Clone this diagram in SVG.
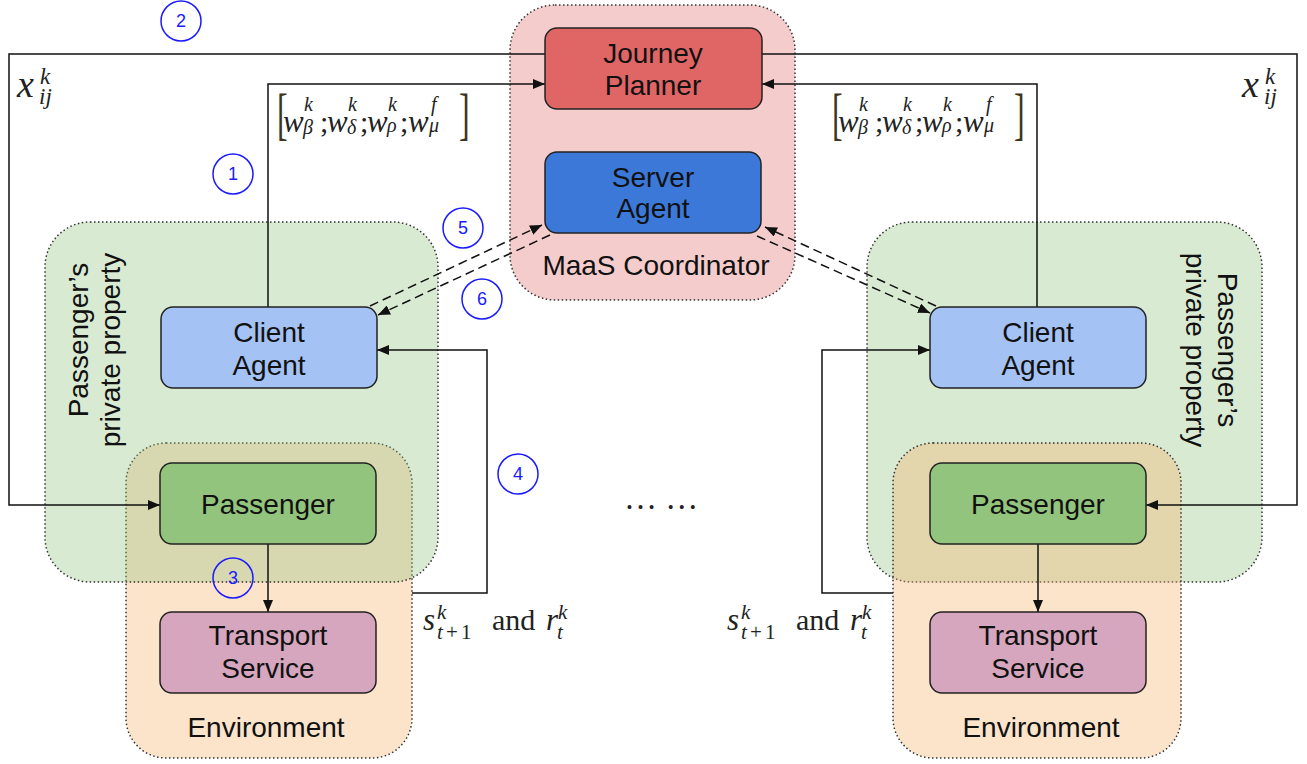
<svg xmlns="http://www.w3.org/2000/svg" width="1307" height="764" viewBox="0 0 1307 764">
<defs>
<style>
.cont{stroke:#333;stroke-width:1.5;stroke-dasharray:1.5 2.5}
.node{stroke:#222;stroke-width:1.5}
.lbl{font-family:"Liberation Sans",Arial,sans-serif;font-size:28px;fill:#111;text-anchor:middle}
.conn{fill:none;stroke:#111;stroke-width:1.5}
.dash{fill:none;stroke:#111;stroke-width:1.5;stroke-dasharray:9 5}
.circ{fill:none;stroke:#1a1aff;stroke-width:1.5}
.num{font-family:"Liberation Sans",Arial,sans-serif;font-size:18px;fill:#1a1aff;text-anchor:middle}
.m{font-family:"Liberation Serif","Times New Roman",serif;font-style:italic;fill:#222}
.mr{font-family:"Liberation Serif","Times New Roman",serif;fill:#222}
.br{font-family:"Liberation Serif","Times New Roman",serif;fill:#3d3420}
</style>
<marker id="ah" viewBox="0 0 12 10" refX="12" refY="5" markerWidth="12" markerHeight="10" markerUnits="userSpaceOnUse" orient="auto">
<path d="M0,0 L12,5 L0,10 z" fill="#111"/>
</marker>
</defs>
<rect width="1307" height="764" fill="#fff"/>

<g id="maas-coordinator">
<rect class="cont" x="510" y="5" width="285" height="295" rx="45" fill="#f4cccc"/>
<text class="lbl" x="656" y="275">MaaS Coordinator</text>
</g>

<g id="environment-left">
<rect class="cont" x="126" y="443" width="286" height="315" rx="40" fill="#f6b26b" fill-opacity="0.35"/>
<text class="lbl" x="266" y="737">Environment</text>
</g>
<g id="private-left">
<rect class="cont" x="45" y="222" width="393" height="360" rx="45" fill="#93c47d" fill-opacity="0.35"/>
<text class="lbl" transform="translate(88,340) rotate(-90)">Passenger’s</text>
<text class="lbl" transform="translate(120,350) rotate(-90)">private property</text>
</g>

<g id="private-right">
<rect class="cont" x="867" y="222" width="395" height="360" rx="45" fill="#93c47d" fill-opacity="0.35"/>
<text class="lbl" transform="translate(1218,350) rotate(90)">Passenger’s</text>
<text class="lbl" transform="translate(1186,350) rotate(90)">private property</text>
</g>
<g id="environment-right">
<rect class="cont" x="893" y="443" width="288" height="315" rx="40" fill="#f6b26b" fill-opacity="0.35"/>
<text class="lbl" x="1041" y="737">Environment</text>
</g>

<g id="connectors">
<path class="conn" d="M545,54 H9 V505 H160" marker-end="url(#ah)"/>
<path class="conn" d="M762,54 H1297 V505 H1146" marker-end="url(#ah)"/>
<path class="conn" d="M268,307 V84 H545" marker-end="url(#ah)"/>
<path class="conn" d="M1037,307 V84 H762" marker-end="url(#ah)"/>
<path class="conn" d="M412,593 H487 V350 H377" marker-end="url(#ah)"/>
<path class="conn" d="M893,593 H822 V350 H930" marker-end="url(#ah)"/>
<path class="conn" d="M268,544 V612" marker-end="url(#ah)"/>
<path class="conn" d="M1038,544 V612" marker-end="url(#ah)"/>
<path class="dash" d="M370,306 L542,225" marker-end="url(#ah)"/>
<path class="dash" d="M550,235 L378,315" marker-end="url(#ah)"/>
<path class="dash" d="M936,306 L765,227" marker-end="url(#ah)"/>
<path class="dash" d="M757,236 L930,313" marker-end="url(#ah)"/>
</g>

<g id="journey-planner">
<rect class="node" x="545" y="28" width="217" height="81" rx="12" fill="#e06666"/>
<text class="lbl" x="653" y="63">Journey</text>
<text class="lbl" x="653" y="95">Planner</text>
</g>
<g id="server-agent">
<rect class="node" x="545" y="152" width="216" height="81" rx="12" fill="#3c78d8"/>
<text class="lbl" x="653" y="187">Server</text>
<text class="lbl" x="653" y="218">Agent</text>
</g>
<g id="client-agent-left">
<rect class="node" x="161" y="307" width="216" height="81" rx="12" fill="#a4c2f4"/>
<text class="lbl" x="269" y="342">Client</text>
<text class="lbl" x="269" y="375">Agent</text>
</g>
<g id="passenger-left">
<rect class="node" x="160" y="463" width="216" height="81" rx="12" fill="#93c47d"/>
<text class="lbl" x="268" y="514">Passenger</text>
</g>
<g id="transport-left">
<rect class="node" x="160" y="612" width="216" height="81" rx="12" fill="#d5a6bd"/>
<text class="lbl" x="268" y="645">Transport</text>
<text class="lbl" x="268" y="678">Service</text>
</g>
<g id="client-agent-right">
<rect class="node" x="930" y="307" width="216" height="81" rx="12" fill="#a4c2f4"/>
<text class="lbl" x="1038" y="342">Client</text>
<text class="lbl" x="1038" y="375">Agent</text>
</g>
<g id="passenger-right">
<rect class="node" x="930" y="463" width="216" height="81" rx="12" fill="#93c47d"/>
<text class="lbl" x="1038" y="514">Passenger</text>
</g>
<g id="transport-right">
<rect class="node" x="930" y="612" width="216" height="81" rx="12" fill="#d5a6bd"/>
<text class="lbl" x="1038" y="645">Transport</text>
<text class="lbl" x="1038" y="678">Service</text>
</g>

<g id="step-markers">
<circle class="circ" cx="181" cy="21" r="20"/><text class="num" x="181" y="27">2</text>
<circle class="circ" cx="233" cy="174" r="20"/><text class="num" x="233" y="180">1</text>
<circle class="circ" cx="463" cy="228" r="20"/><text class="num" x="463" y="234">5</text>
<circle class="circ" cx="482" cy="299" r="20"/><text class="num" x="482" y="305">6</text>
<circle class="circ" cx="233" cy="578" r="20"/><text class="num" x="233" y="584">3</text>
<circle class="circ" cx="518" cy="474" r="20"/><text class="num" x="518" y="480">4</text>
</g>

<g id="label-x-left">
<text class="m" x="17" y="97" font-size="38">x</text>
<text class="m" x="40" y="84" font-size="23">k</text>
<text class="m" x="39" y="104" font-size="23">ij</text>
</g>
<g id="label-x-right">
<text class="m" x="1242" y="97" font-size="38">x</text>
<text class="m" x="1265" y="84" font-size="23">k</text>
<text class="m" x="1264" y="104" font-size="23">ij</text>
</g>

<g id="label-w-left">
<text class="br" transform="translate(277,133) scale(1,1.75)" font-size="32">[</text>
<text class="m" x="283" y="132" font-size="31">w</text>
<text class="m" x="304" y="111" font-size="20">k</text>
<text class="m" x="303" y="134" font-size="20">β</text>
<text class="mr" x="320" y="132" font-size="30">;</text>
<text class="m" x="327" y="132" font-size="31">w</text>
<text class="m" x="348" y="111" font-size="20">k</text>
<text class="m" x="347" y="134" font-size="20">δ</text>
<text class="mr" x="360" y="132" font-size="30">;</text>
<text class="m" x="367" y="132" font-size="31">w</text>
<text class="m" x="388" y="111" font-size="20">k</text>
<text class="m" x="387" y="132" font-size="20">ρ</text>
<text class="mr" x="400" y="132" font-size="30">;</text>
<text class="m" x="408" y="132" font-size="31">w</text>
<text class="m" x="431" y="111" font-size="20">f</text>
<text class="m" x="429" y="132" font-size="20">μ</text>
<text class="br" transform="translate(459,133) scale(1,1.75)" font-size="32">]</text>
</g>
<g id="label-w-right">
<text class="br" transform="translate(832,133) scale(1,1.75)" font-size="32">[</text>
<text class="m" x="838" y="132" font-size="31">w</text>
<text class="m" x="859" y="111" font-size="20">k</text>
<text class="m" x="858" y="134" font-size="20">β</text>
<text class="mr" x="875" y="132" font-size="30">;</text>
<text class="m" x="882" y="132" font-size="31">w</text>
<text class="m" x="903" y="111" font-size="20">k</text>
<text class="m" x="902" y="134" font-size="20">δ</text>
<text class="mr" x="915" y="132" font-size="30">;</text>
<text class="m" x="922" y="132" font-size="31">w</text>
<text class="m" x="943" y="111" font-size="20">k</text>
<text class="m" x="942" y="132" font-size="20">ρ</text>
<text class="mr" x="955" y="132" font-size="30">;</text>
<text class="m" x="963" y="132" font-size="31">w</text>
<text class="m" x="986" y="111" font-size="20">f</text>
<text class="m" x="984" y="132" font-size="20">μ</text>
<text class="br" transform="translate(1014,133) scale(1,1.75)" font-size="32">]</text>
</g>

<g id="label-s-left">
<text class="m" x="423" y="630" font-size="31">s</text>
<text class="m" x="437" y="619" font-size="21">k</text>
<text class="m" x="437" y="639" font-size="21">t</text>
<text class="mr" x="446" y="639" font-size="21">+</text>
<text class="mr" x="461" y="639" font-size="21">1</text>
<text class="mr" x="492" y="630" font-size="30">and</text>
<text class="m" x="546" y="630" font-size="31">r</text>
<text class="m" x="558" y="619" font-size="21">k</text>
<text class="m" x="557" y="639" font-size="21">t</text>
</g>
<g id="label-s-right">
<text class="m" x="727" y="630" font-size="31">s</text>
<text class="m" x="741" y="619" font-size="21">k</text>
<text class="m" x="741" y="639" font-size="21">t</text>
<text class="mr" x="750" y="639" font-size="21">+</text>
<text class="mr" x="765" y="639" font-size="21">1</text>
<text class="mr" x="796" y="630" font-size="30">and</text>
<text class="m" x="850" y="630" font-size="31">r</text>
<text class="m" x="862" y="619" font-size="21">k</text>
<text class="m" x="861" y="639" font-size="21">t</text>
</g>

<text class="mr" x="624" y="509" font-size="33">… …</text>
</svg>
